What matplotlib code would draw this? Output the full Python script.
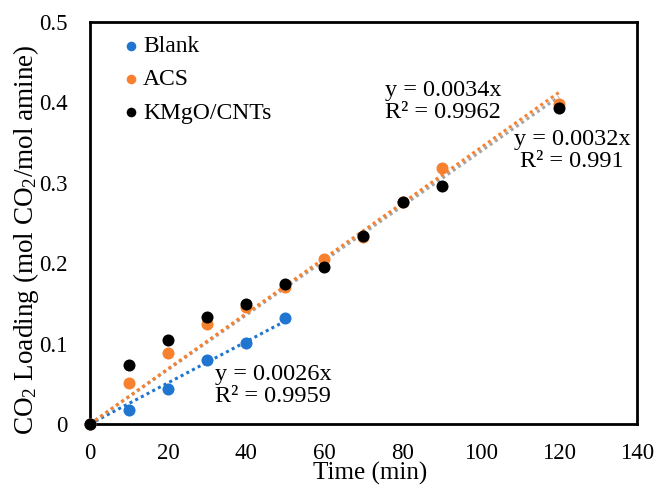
import numpy as np
import matplotlib
matplotlib.use("Agg")
import matplotlib.pyplot as plt

plt.rcParams['font.family'] = ['Liberation Serif', 'DejaVu Serif']
plt.rcParams['mathtext.fontset'] = 'custom'
plt.rcParams['mathtext.rm'] = 'Liberation Serif'
plt.rcParams['mathtext.it'] = 'Liberation Serif:italic'
plt.rcParams['mathtext.default'] = 'regular'

blank_x = [0, 10, 20, 30, 40, 50]
blank_y = [0, 0.017, 0.044, 0.080, 0.101, 0.132]
acs_x = [0, 10, 20, 30, 40, 50, 60, 70, 80, 90, 120]
acs_y = [0, 0.051, 0.088, 0.124, 0.146, 0.170, 0.205, 0.233, 0.276, 0.318, 0.398]
kmgo_x = [0, 10, 20, 30, 40, 50, 60, 70, 80, 90, 120]
kmgo_y = [0, 0.074, 0.105, 0.133, 0.149, 0.174, 0.195, 0.234, 0.276, 0.296, 0.393]

labels_eq = {'Blank': "y = 0.0026x\nR² = 0.9959",
             'ACS': "y = 0.0034x\nR² = 0.9962",
             'KMgO/CNTs': "y = 0.0032x\nR² = 0.991"}

c_blue = '#1F75CF'
c_orange = '#F7812F'
c_black = '#000000'
c_gray = '#A5A5A5'

fig = plt.figure(figsize=(6.56, 4.88), dpi=100)
ax = fig.add_axes([0.137, 0.131, 0.834, 0.824])

ms = 75
ax.scatter(blank_x, blank_y, s=ms, color=c_blue, label='Blank', zorder=3, linewidths=0, clip_on=False)
ax.scatter(acs_x, acs_y, s=ms, color=c_orange, label='ACS', zorder=3, linewidths=0, clip_on=False)
ax.scatter(kmgo_x, kmgo_y, s=ms, color=c_black, label='KMgO/CNTs', zorder=4, linewidths=0, clip_on=False)

def fit_line(xs, ys, color):
    xs = np.array(xs, float); ys = np.array(ys, float)
    k = (xs * ys).sum() / (xs * xs).sum()
    xx = np.array([0, xs.max()])
    ax.plot(xx, k * xx, linestyle=(0, (1, 1.1)), color=color, lw=2.2, zorder=2)

fit_line(blank_x, blank_y, c_blue)
fit_line(kmgo_x, kmgo_y, c_gray)
fit_line(acs_x, acs_y, c_orange)

tfs = 17.5
ax.text(32, 0.075, labels_eq['Blank'], fontsize=tfs, va='top', ha='left', linespacing=1.05)
ax.text(75.5, 0.428, labels_eq['ACS'], fontsize=tfs, va='top', ha='left', linespacing=1.05)
ax.text(123.4, 0.367, labels_eq['KMgO/CNTs'], fontsize=tfs, va='top', ha='center',
        multialignment='center', linespacing=1.05)

ax.set_xlim(0, 140)
ax.set_ylim(0, 0.5)
ax.set_xticks([0, 20, 40, 60, 80, 100, 120, 140])
ax.set_yticks([0, 0.1, 0.2, 0.3, 0.4, 0.5])
ax.set_yticklabels(['0', '0.1', '0.2', '0.3', '0.4', '0.5'])
ax.tick_params(length=0, labelsize=16.5)
ax.tick_params(axis='x', pad=13.5)
ax.tick_params(axis='y', pad=16)
for s in ax.spines.values():
    s.set_linewidth(2)
    s.set_color('black')

ax.set_xlabel('Time (min)', fontsize=18)
ax.xaxis.set_label_coords(0.513, -0.094)
ax.set_ylabel('CO$_2$ Loading (mol CO$_2$/mol amine)', fontsize=19.5)
ax.yaxis.set_label_coords(-0.09, 0.458)

leg = ax.legend(loc='upper left', frameon=False, fontsize=17, handletextpad=-0.5,
                markerscale=0.8, labelspacing=0.5, borderaxespad=0.0,
                bbox_to_anchor=(0.015, 0.99))

fig.savefig('out.png', dpi=100)
